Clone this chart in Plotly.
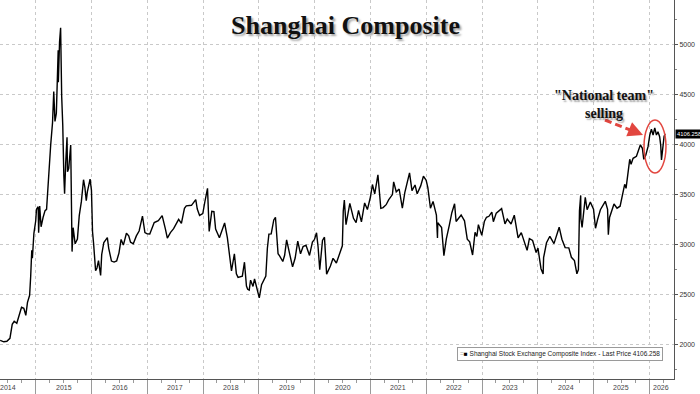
import plotly.graph_objects as go

# ---- data ----
dates = [
    "2014-05-12", "2014-06-05", "2014-06-25", "2014-07-15", "2014-07-30", "2014-08-12", "2014-08-29",
    "2014-09-15", "2014-09-29", "2014-10-14", "2014-10-27", "2014-11-07", "2014-11-21", "2014-11-28",
    "2014-12-05", "2014-12-09", "2014-12-19", "2014-12-31",
    "2015-01-05", "2015-01-16", "2015-01-19", "2015-01-26", "2015-02-04", "2015-02-17", "2015-03-02",
    "2015-03-12", "2015-03-24", "2015-04-08", "2015-04-20", "2015-04-28", "2015-05-06", "2015-05-15",
    "2015-05-27", "2015-05-28", "2015-06-05", "2015-06-12", "2015-06-19", "2015-06-26", "2015-07-03",
    "2015-07-08", "2015-07-15", "2015-07-24", "2015-07-27", "2015-08-04", "2015-08-17", "2015-08-21",
    "2015-08-26", "2015-09-02", "2015-09-15", "2015-09-30", "2015-10-12", "2015-10-26", "2015-11-09",
    "2015-11-18", "2015-11-27", "2015-12-04", "2015-12-22", "2015-12-31",
    "2016-01-07", "2016-01-14", "2016-01-27", "2016-02-05", "2016-02-15", "2016-02-29", "2016-03-07",
    "2016-03-21", "2016-04-13", "2016-04-22", "2016-05-10", "2016-05-27", "2016-06-13", "2016-06-28",
    "2016-07-12", "2016-07-27", "2016-08-16", "2016-08-31", "2016-09-12", "2016-09-30", "2016-10-20",
    "2016-11-07", "2016-11-29", "2016-12-15", "2016-12-30",
    "2017-01-16", "2017-02-14", "2017-03-13", "2017-04-07", "2017-04-28", "2017-05-11", "2017-05-31",
    "2017-06-21", "2017-07-14", "2017-07-24", "2017-08-11", "2017-08-31", "2017-09-12", "2017-10-16",
    "2017-11-13", "2017-11-23", "2017-12-08", "2017-12-29",
    "2018-01-12", "2018-01-29", "2018-02-09", "2018-02-26", "2018-03-12", "2018-03-23", "2018-04-17",
    "2018-05-21", "2018-06-08", "2018-06-19", "2018-07-05", "2018-07-24", "2018-08-06", "2018-08-17",
    "2018-09-14", "2018-09-28", "2018-10-11", "2018-10-19", "2018-10-29", "2018-11-07", "2018-11-23",
    "2018-12-03", "2018-12-27",
    "2019-01-03", "2019-01-18", "2019-02-15", "2019-02-25", "2019-03-07", "2019-03-22", "2019-04-08",
    "2019-04-19", "2019-05-06", "2019-05-17", "2019-06-06", "2019-06-18", "2019-07-01", "2019-07-17",
    "2019-08-09", "2019-08-26", "2019-09-12", "2019-09-30", "2019-10-17", "2019-11-05", "2019-11-28",
    "2019-12-17", "2019-12-31",
    "2020-01-13", "2020-01-23", "2020-02-03", "2020-02-21", "2020-03-05", "2020-03-19", "2020-04-13",
    "2020-04-30", "2020-05-22", "2020-06-12", "2020-06-30", "2020-07-06", "2020-07-13", "2020-07-24",
    "2020-08-18", "2020-09-11", "2020-09-28", "2020-10-14", "2020-11-02", "2020-11-23", "2020-12-11",
    "2020-12-31",
    "2021-01-13", "2021-01-28", "2021-02-18", "2021-03-09", "2021-03-24", "2021-04-13", "2021-04-30",
    "2021-05-24", "2021-06-01", "2021-06-18", "2021-07-07", "2021-07-28", "2021-08-13", "2021-09-13",
    "2021-09-29", "2021-10-19", "2021-11-02", "2021-11-25", "2021-12-13", "2021-12-31",
    "2022-01-11", "2022-01-28", "2022-02-14", "2022-03-08", "2022-03-15", "2022-03-17", "2022-04-11",
    "2022-04-26", "2022-05-12", "2022-05-31", "2022-06-17", "2022-07-05", "2022-07-15", "2022-08-17",
    "2022-09-08", "2022-09-26", "2022-10-12", "2022-10-31", "2022-11-16", "2022-11-28", "2022-12-08",
    "2022-12-30",
    "2023-01-16", "2023-01-30", "2023-02-15", "2023-03-06", "2023-03-16", "2023-04-04", "2023-05-09",
    "2023-05-31", "2023-06-15", "2023-07-10", "2023-07-31", "2023-08-25", "2023-09-15", "2023-10-23",
    "2023-11-07", "2023-11-28", "2023-12-21",
    "2024-01-02", "2024-01-22", "2024-02-05", "2024-02-08", "2024-02-27", "2024-03-20", "2024-04-16",
    "2024-05-20", "2024-06-07", "2024-06-28", "2024-07-22", "2024-08-08", "2024-08-28", "2024-09-13",
    "2024-09-23", "2024-09-30", "2024-10-08", "2024-10-09", "2024-10-17", "2024-11-07", "2024-11-19",
    "2024-12-10", "2024-12-31",
    "2025-01-13", "2025-01-27", "2025-02-14", "2025-03-18", "2025-04-02", "2025-04-07", "2025-04-15",
    "2025-05-14", "2025-06-03", "2025-06-23", "2025-07-10", "2025-07-23", "2025-08-01", "2025-08-14",
    "2025-08-25", "2025-09-03", "2025-09-16", "2025-10-08", "2025-10-18", "2025-11-03", "2025-11-16",
    "2025-11-25", "2025-12-08", "2025-12-23",
    "2026-01-03", "2026-01-14", "2026-01-25", "2026-02-05", "2026-02-16", "2026-02-26", "2026-03-09",
    "2026-03-16", "2026-03-21", "2026-03-27", "2026-04-07", "2026-04-14",
]
values = [
    2040, 2025, 2030, 2060, 2200, 2230, 2210,
    2310, 2370, 2360, 2290, 2420, 2490, 2680,
    2940, 2860, 3110, 3235,
    3350, 3376, 3116, 3383, 3175, 3268, 3337,
    3350, 3690, 3995, 4217, 4527, 4229, 4308,
    4941, 4620, 5023, 5166, 4478, 4192, 3687,
    3507, 3805, 4070, 3725, 3756, 3993, 3507,
    2927, 3166, 3005, 3053, 3287, 3429, 3646,
    3568, 3436, 3524, 3651, 3539,
    3125, 3007, 2735, 2763, 2837, 2688, 2897,
    3018, 3066, 2960, 2832, 2822, 2834, 2912,
    3049, 2992, 3110, 3085, 3021, 3005, 3084,
    3133, 3282, 3117, 3104,
    3103, 3217, 3237, 3287, 3155, 3062, 3117,
    3156, 3222, 3250, 3209, 3360, 3385, 3390,
    3447, 3352, 3289, 3307,
    3428, 3560, 3129, 3329, 3326, 3153, 3066,
    3213, 3067, 2908, 2733, 2905, 2705, 2669,
    2681, 2821, 2583, 2550, 2542, 2641, 2579,
    2654, 2483,
    2464, 2596, 2682, 2961, 3102, 3104, 3244,
    3270, 2906, 2882, 2828, 2890, 3044, 2931,
    2774, 2863, 3031, 2905, 2977, 2991, 2889,
    3022, 3050,
    3115, 2976, 2746, 3039, 3071, 2702, 2783,
    2860, 2813, 2919, 2985, 3332, 3443, 3196,
    3410, 3260, 3217, 3340, 3225, 3414, 3347,
    3473,
    3598, 3505, 3695, 3360, 3367, 3396, 3447,
    3497, 3624, 3525, 3553, 3361, 3517, 3715,
    3536, 3593, 3505, 3584, 3681, 3640,
    3567, 3361, 3429, 3293, 3064, 3215, 3167,
    2887, 3054, 3186, 3316, 3405, 3228, 3293,
    3235, 3051, 3025, 2893, 3120, 3078, 3197,
    3089,
    3228, 3270, 3280, 3322, 3226, 3312, 3357,
    3204, 3252, 3203, 3291, 3064, 3117, 2939,
    3057, 3038, 2918,
    2962, 2756, 2702, 2866, 3015, 3080, 3007,
    3171, 3051, 2967, 2964, 2870, 2837, 2705,
    2748, 3336, 3489, 3258, 3169, 3470, 3346,
    3422, 3352,
    3160, 3250, 3346, 3430, 3350, 3096, 3268,
    3403, 3361, 3381, 3509, 3600, 3560, 3700,
    3850, 3800, 3860, 3880, 3926, 3995, 3960,
    3850, 3890, 3976,
    4090, 4150, 4093, 4165, 4093, 4126, 4076,
    3990, 3843, 3943, 4080, 4106.258,
]

series_name = "Shanghai Stock Exchange Composite Index"
last_price = 4106.258

year_labels = ["2014", "2015", "2016", "2017", "2018", "2019", "2020",
               "2021", "2022", "2023", "2024", "2025", "2026"]
year_label_dates = ["2014-07-02", "2015-07-02", "2016-07-02", "2017-07-02", "2018-07-02",
                    "2019-07-02", "2020-07-02", "2021-07-02", "2022-07-02", "2023-07-02",
                    "2024-07-02", "2025-07-02", "2026-03-17"]
y_ticks = [2000, 2500, 3000, 3500, 4000, 4500, 5000]

title_text = "Shanghai Composite"
note_lines = ['"National team"', "selling"]

RED = "#e2463f"
GRID = "#c9c9c9"
SERIF = "Liberation Serif, Times New Roman, serif"
SANS = "Liberation Sans, Arial, sans-serif"

fig = go.Figure()
fig.add_trace(go.Scatter(
    x=dates, y=values, mode="lines", name=series_name,
    line=dict(color="black", width=1.4), showlegend=False,
))

fig.update_layout(
    width=700, height=394,
    margin=dict(l=0, r=26, t=0, b=15),
    plot_bgcolor="white", paper_bgcolor="white",
    showlegend=False,
)

fig.update_xaxes(
    type="date", range=["2014-05-11", "2026-06-11"],
    tickmode="linear", tick0="2015-01-01", dtick="M12",
    showticklabels=False, ticks="outside", ticklen=15, tickcolor="#9a9a9a", tickwidth=1,
    showgrid=True, gridcolor=GRID, griddash="dot", gridwidth=1,
    showline=True, linecolor="#555", linewidth=1, zeroline=False,
    minor=dict(ticks="outside", ticklen=3, tickcolor="#9a9a9a", tickmode="linear",
               tick0="2014-01-01", dtick="M3", showgrid=False),
)
fig.update_yaxes(
    side="right", range=[1653, 5443],
    tickmode="array", tickvals=y_ticks, ticktext=[str(v) for v in y_ticks],
    ticks="outside", ticklen=3, tickcolor="#555",
    tickfont=dict(size=7, color="#333", family=SANS),
    showgrid=True, gridcolor=GRID, griddash="dot", gridwidth=1,
    showline=True, linecolor="#555", linewidth=1, zeroline=False,
    minor=dict(ticks="outside", ticklen=2, tickcolor="#888", tickmode="linear",
               tick0=0, dtick=250, showgrid=False),
)

annotations = []
# year labels
for lab, d in zip(year_labels, year_label_dates):
    annotations.append(dict(
        x=d, y=0, xref="x", yref="paper", text=lab, showarrow=False,
        xanchor="center", yanchor="top", yshift=-3,
        font=dict(size=7, color="#444", family=SANS),
    ))

# title with soft shadow
annotations.append(dict(
    x=0.512, y=0.934, xref="paper", yref="paper", text="<b>%s</b>" % title_text,
    showarrow=False, xanchor="center", yanchor="middle",
    font=dict(size=26, color="#111", family=SERIF,
              shadow="2px 2px 2px rgba(0,0,0,0.35)"),
))

# "National team" selling note with shadow
for line, yy in zip(note_lines, [0.7493, 0.7018]):
    annotations.append(dict(
        x=0.896, y=yy, xref="paper", yref="paper", text="<b>%s</b>" % line,
        showarrow=False, xanchor="center", yanchor="middle",
        font=dict(size=14, color="#111", family=SERIF,
                  shadow="1.5px 1.5px 1.5px rgba(0,0,0,0.35)"),
    ))

# arrow head
annotations.append(dict(
    x=0.9540, y=0.6438, xref="paper", yref="paper", text="", showarrow=True,
    ax=-12, ay=-5, arrowhead=2, arrowsize=1, arrowwidth=3, arrowcolor=RED,
))

# legend box
annotations.append(dict(
    x=0.9837, y=0.066, xref="paper", yref="paper", xanchor="right", yanchor="middle",
    text='<span style="color:#aaa">=</span><span style="color:#000">■</span> %s - Last Price %s' % (series_name, f"{last_price:.3f}"),
    showarrow=False, bgcolor="white", bordercolor="#9a9a9a", borderwidth=1, borderpad=2,
    font=dict(size=6.5, color="#222", family=SANS),
))

# last price tag
annotations.append(dict(
    x=1.0, y=last_price, xref="paper", yref="y", xanchor="left", yanchor="middle", xshift=1,
    text=f"{last_price:.3f}", showarrow=False, bgcolor="black", borderpad=1,
    font=dict(size=5.8, color="white", family=SANS),
))

fig.update_layout(annotations=annotations)

# dashed arrow body and ellipse
fig.add_shape(type="line", xref="paper", yref="paper",
              x0=0.8976, y0=0.6834, x1=0.9420, y1=0.6520,
              line=dict(color=RED, width=3, dash="7px,4px"))
fig.add_shape(type="circle", xref="paper", yref="paper",
              x0=0.9555, x1=0.9881, y0=0.5435, y1=0.6834,
              line=dict(color=RED, width=1.5))

fig.write_html("out.html")
